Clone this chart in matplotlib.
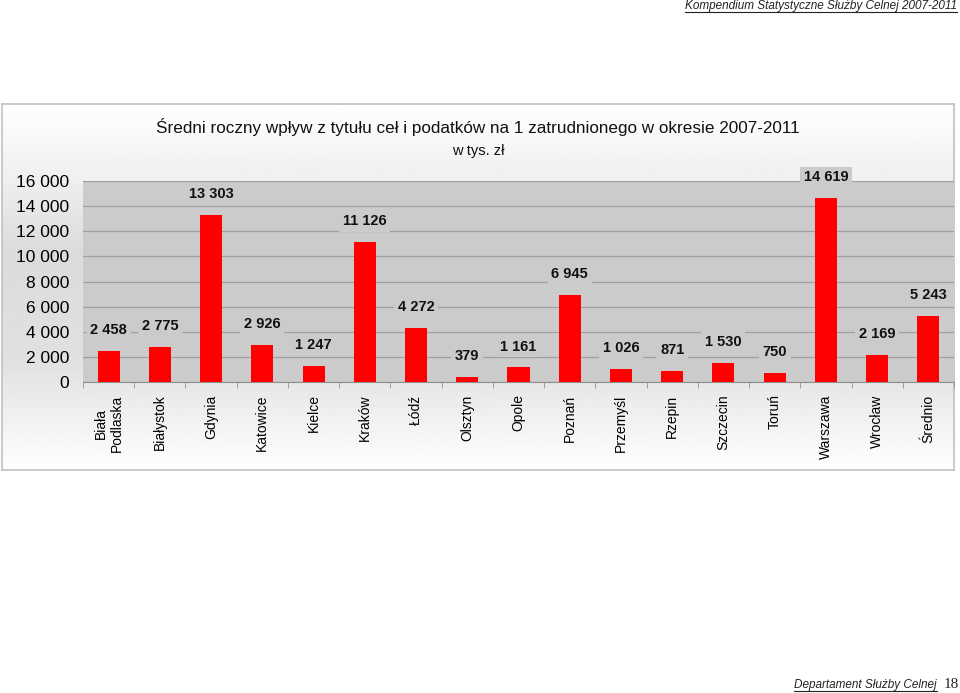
import matplotlib
matplotlib.use("Agg")
import matplotlib.pyplot as plt
import numpy as np
from matplotlib.lines import Line2D

categories = ["Biała\nPodlaska", "Białystok", "Gdynia", "Katowice", "Kielce", "Kraków",
              "Łódź", "Olsztyn", "Opole", "Poznań", "Przemyśl", "Rzepin", "Szczecin",
              "Toruń", "Warszawa", "Wrocław", "Średnio"]
values = [2458, 2775, 13303, 2926, 1247, 11126, 4272, 379, 1161, 6945, 1026, 871,
          1530, 750, 14619, 2169, 5243]
yticks = [0, 2000, 4000, 6000, 8000, 10000, 12000, 14000, 16000]

title = "Średni roczny wpływ z tytułu ceł i podatków na 1 zatrudnionego w okresie 2007-2011"
subtitle = "w tys. zł"
header = "Kompendium Statystyczne Służby Celnej 2007-2011"
footer = "Departament Służby Celnej"
page = "18"

plt.rcParams['font.family'] = ['Liberation Sans', 'DejaVu Sans']

def fmt(v):
    return f"{v:,}".replace(",", " ")

fig = plt.figure(figsize=(9.6, 6.93), dpi=100)
fig.patch.set_facecolor("white")

# panel background with gradient
W, H = 960, 693
px0, py0, px1, py1 = 2, 104, 954, 470
bg = fig.add_axes([px0 / W, 1 - py1 / H, (px1 - px0) / W, (py1 - py0) / H])
bg.set_xlim(0, 1); bg.set_ylim(0, 1)
n = 256
t = np.linspace(0, 1, n)  # 0 bottom -> 1 top
vals = np.interp(t, [0, 0.3, 0.6, 0.8, 1.0], [1.0, 0.88, 0.86, 0.94, 1.0])
bg.imshow(np.repeat(vals[:, None], 2, axis=1), cmap="gray", vmin=0, vmax=1,
          origin="lower", extent=[0, 1, 0, 1], aspect="auto")
for s in bg.spines.values():
    s.set_color("#c0c0c0"); s.set_linewidth(1.2)
bg.set_xticks([]); bg.set_yticks([])

ax = fig.add_axes([83 / W, 1 - 382 / H, (954 - 83) / W, (382 - 181) / H])
ax.set_facecolor("#cbcbcb")
x = np.arange(len(categories))
ax.bar(x, values, width=0.43, color="#ff0000", zorder=3)
ax.set_xlim(-0.5, len(categories) - 0.5)
ax.set_ylim(0, 16000)
ax.set_yticks(yticks)
ax.set_yticklabels([fmt(v) for v in yticks], fontsize=12.5)
ax.yaxis.grid(True, color="#a0a0a0", linewidth=0.9, zorder=0)
ax.tick_params(axis="y", length=0, pad=10)
ax.set_xticks(x)
ax.set_xticklabels(categories, rotation=90, fontsize=10, va="top", ha="center",
                   linespacing=1.15)
for lab in ax.get_xticklabels():
    lab.set_multialignment("center")
ax.tick_params(axis="x", length=0, pad=9)
ax.set_xticks(np.arange(len(categories) + 1) - 0.5, minor=True)
ax.tick_params(axis="x", which="minor", length=4, color="#909090")
for s in ["top", "right"]:
    ax.spines[s].set_visible(False)
ax.spines["left"].set_visible(False)
ax.spines["bottom"].set_color("#909090")

for xi, v in zip(x, values):
    ax.annotate(fmt(v), (xi, v), xytext=(0, 10), textcoords="offset points",
                ha="center", va="bottom", fontsize=10.5, fontweight="bold",
                color="#111111", zorder=5, annotation_clip=False,
                bbox=dict(boxstyle="square,pad=0.25", fc="#cbcbcb", ec="none"))

fig.text(478 / W, 1 - 127 / H, title, ha="center", va="center", fontsize=12.35, color="#111111")
fig.text(478 / W, 1 - 151 / H, subtitle, ha="center", va="center", fontsize=10.5, color="#111111")

t1 = fig.text(957 / W, 1 - 6 / H, header, ha="right", va="center", fontsize=8.5,
              style="italic", color="#222222")
t2 = fig.text(937 / W, 1 - 685 / H, footer, ha="right", va="center", fontsize=8.5,
              style="italic", color="#222222")
fig.text(944 / W, 1 - 684 / H, page, ha="left", va="center", fontsize=11,
         family="Liberation Serif", color="#222222")

fig.canvas.draw()
r = fig.canvas.get_renderer()
for tt in (t1, t2):
    bb = tt.get_window_extent(r)
    yb = bb.y0 + 0.5
    fig.add_artist(Line2D([bb.x0 / W, bb.x1 / W], [yb / H, yb / H],
                          transform=fig.transFigure, color="#222222", linewidth=0.8))

fig.savefig("out.png", dpi=100)
